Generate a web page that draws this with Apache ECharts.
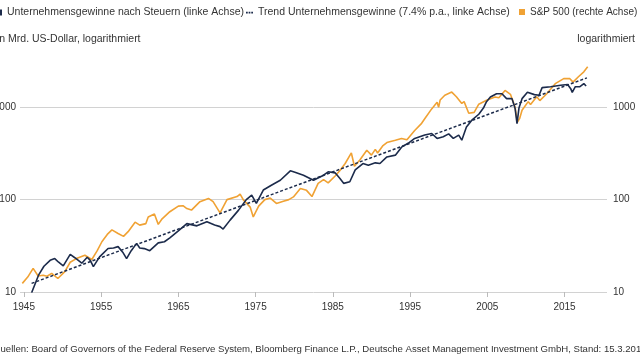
<!DOCTYPE html>
<html>
<head>
<meta charset="utf-8">
<script src="https://cdn.jsdelivr.net/npm/echarts@6/dist/echarts.min.js"></script>
<style>html,body{margin:0;padding:0;background:#fff}#c{width:640px;height:360px}</style>
</head>
<body>
<div id="c"></div>
<script>
const xTicks = [1945, 1955, 1965, 1975, 1985, 1995, 2005, 2015];
const yTicks = [10, 100, 1000];

const profitYears = [1946.0,1946.9,1947.6,1948.4,1949.0,1949.5,1950.1,1951.0,1951.6,1952.5,1953.2,1953.6,1954.0,1954.8,1955.9,1956.6,1957.2,1957.8,1958.3,1958.9,1959.6,1960.0,1960.6,1961.3,1962.4,1963.2,1963.9,1965.0,1966.1,1967.4,1968.7,1969.7,1970.4,1970.8,1971.7,1972.8,1973.8,1974.5,1975.1,1976.0,1977.1,1978.2,1979.5,1980.1,1981.2,1982.5,1983.8,1984.4,1985.3,1985.9,1986.4,1987.2,1987.9,1988.9,1989.6,1990.5,1991.1,1992.0,1993.1,1993.9,1994.8,1995.6,1996.9,1997.8,1998.5,1999.3,2000.0,2000.6,2001.3,2001.7,2002.3,2003.0,2003.9,2004.5,2004.9,2005.4,2006.2,2006.9,2007.5,2008.2,2008.6,2008.85,2009.1,2009.5,2010.2,2011.1,2011.7,2012.1,2013.2,2014.5,2015.4,2015.8,2016.0,2016.4,2017.0,2017.5,2017.8];
const profitValues = [9.8,15.2,19,22,23,21,19.2,25.5,23.5,20.5,23.8,22,18.8,24,29.6,30,31,27,23,28,33.6,30,29.5,28,34,35,38.5,46,55,52,57.5,53,51,48,60,77,100,112,91,127,144,162,205,198,184,162,184,200,195,170,150,156,210,246,235,250,246,290,303,370,410,460,500,520,460,480,515,460,500,440,610,725,840,980,1150,1290,1400,1400,1240,1240,970,665,980,1240,1450,1370,1350,1630,1670,1730,1760,1590,1450,1670,1670,1800,1700];

const spxYears = [1944.8,1945.5,1946.2,1946.85,1947.5,1948.0,1948.6,1949.4,1950.3,1951.0,1951.8,1952.9,1953.8,1954.5,1955.1,1955.8,1956.4,1957.2,1957.9,1958.5,1959.4,1960.0,1960.8,1961.1,1961.9,1962.4,1962.9,1963.9,1965.0,1965.6,1966.1,1966.7,1967.8,1968.9,1969.5,1970.4,1971.3,1972.6,1973.0,1973.4,1974.3,1974.7,1975.4,1976.2,1976.9,1977.7,1978.6,1979.3,1979.9,1980.8,1981.6,1982.3,1983.1,1983.8,1984.4,1985.3,1985.9,1986.6,1987.4,1987.8,1988.5,1989.4,1990.0,1990.5,1990.8,1991.5,1992.0,1993.1,1993.9,1994.6,1995.6,1996.5,1996.9,1997.8,1998.5,1998.7,1998.9,1999.5,2000.4,2001.0,2001.7,2002.0,2002.6,2002.8,2003.3,2003.9,2004.9,2006.0,2006.5,2007.3,2008.0,2008.6,2008.9,2009.2,2009.5,2010.3,2010.6,2011.4,2011.8,2012.7,2013.8,2014.9,2015.7,2016.1,2016.8,2017.5,2018.0];
const spxValues = [12.4,14.5,18.0,14.9,15.2,14.8,15.9,14.0,16.6,21,23,25,22.5,28,35,42,47,43,40,45,57,53,55,65,70,54,62,74,85,86,80,77,95,103,95,72,100,108,115,100,83,65,85,100,104,91,96,100,107,132,126,108,150,165,152,180,205,246,320,230,268,343,303,350,320,385,415,440,460,445,560,670,750,960,1130,1000,1200,1350,1460,1300,1100,1150,860,820,880,1080,1190,1290,1270,1520,1380,1000,690,760,930,1150,1070,1300,1180,1400,1800,2040,2040,1870,2140,2420,2750];

const trendYears = [1946.0, 2017.9];
const trendValues = [12.4, 2080];

const names = {
  profit: 'Unternehmensgewinne nach Steuern (linke Achse)',
  trend: 'Trend Unternehmensgewinne (7.4% p.a., linke Achse)',
  spx: 'S&P 500 (rechte Achse)'
};

const zip = (a, b) => a.map((v, i) => [v, b[i]]);
const NAVY = '#1c2b4b';
const ORANGE = '#f0a234';
const FONT = 'Liberation Sans';
const txt = {fontFamily: FONT, fontSize: 10, color: '#333'};
const txtL = {fontFamily: FONT, fontSize: 10.5, color: '#333'};

const chart = echarts.init(document.getElementById('c'), null, {renderer: 'canvas'});
const yAxisBase = {
  type: 'log', logBase: 10, min: 10, max: 3500,
  axisLine: {show: false},
  axisTick: {show: false, customValues: yTicks},
  axisLabel: {customValues: yTicks, fontFamily: FONT, fontSize: 10, color: '#333', formatter: v => String(v)}
};
chart.setOption({
  animation: false,
  backgroundColor: '#fff',
  textStyle: {fontFamily: FONT},
  title: [
    {text: 'in Mrd. US-Dollar, logarithmiert', left: -3, top: 34, padding: 0, textStyle: Object.assign({fontWeight: 'normal'}, txtL)},
    {text: 'logarithmiert', right: 5, top: 34, padding: 0, textStyle: Object.assign({fontWeight: 'normal'}, txtL)},
    {text: 'Quellen: Board of Governors of the Federal Reserve System, Bloomberg Finance L.P., Deutsche Asset Management Investment GmbH, Stand: 15.3.2018', left: -7, top: 344, padding: 0, textStyle: {fontWeight: 'normal', fontFamily: FONT, fontSize: 9.6, color: '#333'}}
  ],
  legend: [
    {data: [{name: names.profit, icon: 'rect'}], left: -4, top: 7, padding: 0, itemWidth: 6, itemHeight: 6, textStyle: txtL, selectedMode: false},
    {data: [{name: names.trend, icon: 'path://M0,0h2v2h-2z M3,0h2v2h-2z M6,0h2v2h-2z'}], left: 246, top: 7, padding: 0, itemWidth: 7, itemHeight: 2, textStyle: txtL, selectedMode: false},
    {data: [{name: names.spx, icon: 'rect'}], left: 519, top: 7, padding: 0, itemWidth: 6, itemHeight: 6, textStyle: txt, selectedMode: false}
  ],
  grid: {left: 20, right: 33, top: 57, bottom: 68, containLabel: false, outerBoundsMode: 'none'},
  xAxis: {
    type: 'value', min: 1944.5, max: 2020.5,
    axisLine: {show: false},
    splitLine: {show: false},
    axisTick: {show: true, customValues: xTicks, length: 5, lineStyle: {color: '#bbb'}},
    axisLabel: {customValues: xTicks, margin: 10, fontFamily: FONT, fontSize: 10, color: '#333', formatter: v => String(v)}
  },
  yAxis: [
    Object.assign({}, yAxisBase, {position: 'left', splitLine: {show: true, lineStyle: {color: '#d2d2d2', width: 1}},
      axisLabel: Object.assign({}, yAxisBase.axisLabel, {margin: 4})}),
    Object.assign({}, yAxisBase, {position: 'right', splitLine: {show: false},
      axisLabel: Object.assign({}, yAxisBase.axisLabel, {margin: 6})})
  ],
  series: [
    {name: names.spx, type: 'line', yAxisIndex: 1, data: zip(spxYears, spxValues), showSymbol: false, symbol: 'none',
      lineStyle: {color: ORANGE, width: 1.6}, itemStyle: {color: ORANGE}, z: 2},
    {name: names.profit, type: 'line', yAxisIndex: 0, data: zip(profitYears, profitValues), showSymbol: false, symbol: 'none',
      lineStyle: {color: NAVY, width: 1.6}, itemStyle: {color: NAVY}, z: 3},
    {name: names.trend, type: 'line', yAxisIndex: 0, data: zip(trendYears, trendValues), showSymbol: false, symbol: 'none',
      lineStyle: {color: NAVY, width: 1.5, type: [3, 2]}, itemStyle: {color: NAVY}, z: 4}
  ]
});
</script>
</body>
</html>
